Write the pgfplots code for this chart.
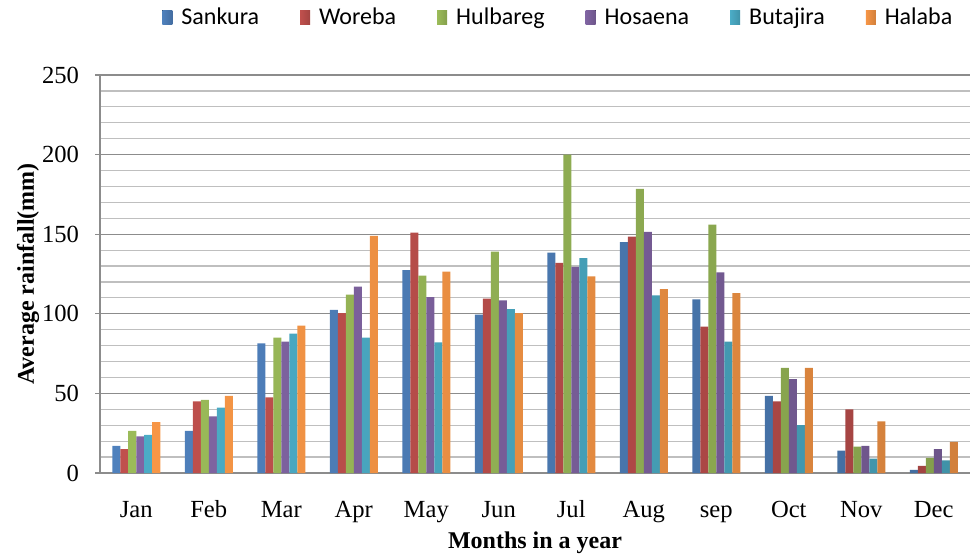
\documentclass[border=0pt]{standalone}
\usepackage{fontspec}
\setmainfont{Liberation Serif}
\newfontfamily\legfont{Carlito}
\usepackage{pgfplots}
\usepackage{pgfplotstable}
\pgfplotsset{compat=1.18}
\definecolor{cS}{HTML}{4F81BD}
\definecolor{cW}{HTML}{C0504D}
\definecolor{cHu}{HTML}{9BBB59}
\definecolor{cHo}{HTML}{8064A2}
\definecolor{cB}{HTML}{4BACC6}
\definecolor{cHa}{HTML}{F79646}
\pgfplotstableread{
x S W Hu Ho B Ha
0 17 15 26.5 23 24 32
1 26.5 45 46 35.5 41 48.5
2 81.5 47.5 85 82.5 87.5 92.5
3 102.5 100.5 112 117 85 149
4 127.5 151 124 110.5 82 126.5
5 99.5 109.5 139 108.5 103 100.5
6 138.5 132 200 129.5 135 123.5
7 145 148.5 178.5 151.5 111.5 115.5
8 109 92 156 126 82.5 113
9 48.5 45 66 59 30 66
10 14 40 16.5 17 9 32.5
11 2 4.5 9.5 15 8 19.5
}\data
\begin{document}
\begin{tikzpicture}
\useasboundingbox (-50pt,-42.5pt) rectangle (436pt,236.5pt);
\begin{axis}[
  scale only axis,
  width=435pt, height=199pt,
  ybar=0pt, bar width=4pt,
  xmin=-0.5, xmax=11.5, ymin=0, ymax=250,
  axis lines*=left,
  axis line style={draw=black!45, line width=0.6pt},
  xtick={0,...,11},
  xticklabels={Jan,Feb,Mar,Apr,May,Jun,Jul,Aug,sep,Oct,Nov,Dec},
  x tick style={draw=none},
  ytick={0,50,...,250},
  minor y tick num=4,
  ymajorgrids, yminorgrids,
  major grid style={draw=black!45, line width=0.6pt},
  minor grid style={draw=black!25, line width=0.6pt},
  y tick style={draw=black!45, line width=0.6pt},
  major tick length=2.5pt,
  minor tick length=0pt,
  tick align=outside,
  /pgf/number format/assume math mode=true,
  tick label style={font=\fontsize{12.3}{14}\selectfont},
  xticklabel style={yshift=-8pt, text height=8pt, text depth=2.5pt},
  yticklabel style={xshift=-4.5pt},
  xlabel={\textbf{Months in a year}},
  ylabel={\textbf{Average rainfall(mm)}},
  xlabel style={at={(axis description cs:0.5,-0.175)}, anchor=center, font=\fontsize{12}{14}\selectfont},
  ylabel style={at={(axis description cs:-0.0828,0.5)}, anchor=center, font=\fontsize{12}{14}\selectfont},
  legend columns=6,
  legend style={at={(0.528,1)}, anchor=center, yshift=28.5pt, draw=none, fill=none,
    font=\legfont\fontsize{12}{14}\selectfont,
    /tikz/every odd column/.append style={column sep=2.5pt},
    /tikz/every even column/.append style={column sep=18.5pt}},
  legend image code/.code={\fill[#1] (0pt,-3pt) rectangle (5pt,4pt);},
]
\addplot[draw=none, left color=cS, right color=cS!85!black] table[x=x,y=S]{\data};
\addplot[draw=none, left color=cW, right color=cW!85!black] table[x=x,y=W]{\data};
\addplot[draw=none, left color=cHu, right color=cHu!85!black] table[x=x,y=Hu]{\data};
\addplot[draw=none, left color=cHo, right color=cHo!85!black] table[x=x,y=Ho]{\data};
\addplot[draw=none, left color=cB, right color=cB!85!black] table[x=x,y=B]{\data};
\addplot[draw=none, left color=cHa, right color=cHa!85!black] table[x=x,y=Ha]{\data};
\legend{Sankura,Woreba,Hulbareg,Hosaena,Butajira,Halaba}
\end{axis}
\end{tikzpicture}
\end{document}
